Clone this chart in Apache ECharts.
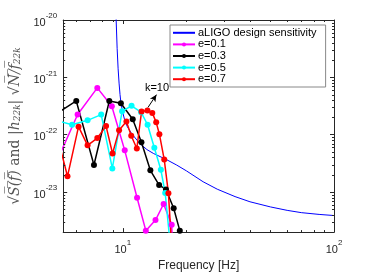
<!DOCTYPE html>
<html><head><meta charset="utf-8">
<script src="https://cdn.jsdelivr.net/npm/echarts@6/dist/echarts.min.js"></script>
<style>html,body{margin:0;padding:0;background:#fff}#c{width:369px;height:277px}</style>
</head><body><div id="c"></div>
<script>
// ---- data ----
const ligoFreq = [9.2, 9.4, 9.5, 9.6, 9.7, 9.8, 10.0, 10.2, 10.5, 11, 12, 13, 14, 16, 18, 20, 24, 28, 34, 40, 50, 60, 70, 85, 100];
const ligoAsd  = [3.16e-20, 3.16e-21, 1.41e-21, 7.94e-22, 5.01e-22, 3.55e-22, 2.40e-22, 1.82e-22, 1.38e-22, 1.05e-22, 7.08e-23, 5.50e-23, 4.68e-23, 3.72e-23, 2.95e-23, 2.34e-23, 1.51e-23, 1.12e-23, 8.32e-24, 6.76e-24, 5.50e-24, 4.79e-24, 4.37e-24, 4.07e-24, 3.89e-24];

const e01Freq = [4.66, 6.11, 7.57, 8.87, 10.21, 11.68, 12.85, 14.28, 15.6, 17.04, 18.5];
const e01Amp  = [2.40e-23, 2.25e-22, 6.55e-22, 3.14e-22, 5.33e-23, 7.96e-24, 2.12e-24, 3.24e-24, 6.19e-24, 2.70e-24, 1e-27];

const e03Freq = [4.72, 6.02, 7.3, 8.63, 9.79, 11.14, 12.25, 13.5, 14.86, 16.01, 17.41, 18.61];
const e03Amp  = [2.19e-22, 3.87e-22, 2.96e-23, 3.87e-22, 3.53e-22, 1.86e-22, 7.40e-23, 2.39e-23, 1.32e-23, 1.11e-23, 5.21e-24, 2.12e-24];

const e05Freq = [4.7, 5.75, 6.81, 7.9, 8.92, 9.92, 11.0, 12.2, 13.1, 14.1, 15.14, 15.87, 16.7];
const e05Amp  = [1.82e-22, 1.49e-22, 1.78e-22, 2.24e-22, 2.58e-23, 2.56e-22, 3.19e-22, 2.47e-22, 1.49e-22, 5.92e-23, 2.44e-23, 9.66e-24, 1.41e-24];

const e07Freq = [4.8, 5.47, 6.17, 6.81, 7.57, 8.33, 8.94, 9.60, 10.40, 10.96, 11.65, 12.27, 13.08, 13.79, 14.39, 14.90, 15.71, 16.44, 17.2];
const e07Amp  = [1.245e-22, 1.88e-23, 1.38e-22, 6.52e-23, 8.73e-23, 1.41e-22, 4.70e-23, 1.20e-22, 1.69e-22, 9.59e-23, 5.74e-23, 2.54e-22, 2.64e-22, 2.40e-22, 1.64e-22, 1.02e-22, 3.68e-23, 9.55e-24, 6.3e-25];

const seriesNames = ['aLIGO design sensitivity', 'e=0.1', 'e=0.3', 'e=0.5', 'e=0.7'];
const annotText = 'k=10';
const annotFrom = [13.16, 2.99e-22];
const annotTo   = [14.43, 4.99e-22];

const X_MIN = 5.22, X_MAX = 100, Y_MIN = 2e-24, Y_MAX = 1e-20;
const xMajorTicks = [10, 100];
const yMajorTicks = [1e-23, 1e-22, 1e-21, 1e-20];
const minorXTicks = [6, 7, 8, 9, 20, 30, 40, 50, 60, 70, 80, 90];
const minorYTicks = [];
for (let n = -24; n <= -21; n++) for (let k = 2; k <= 9; k++) { const v = k * Math.pow(10, n); if (v > Y_MIN && v < Y_MAX) minorYTicks.push(v); }

// ---- helpers (log10 mapping onto value axes) ----
const lg = Math.log10;
const zip = (a, b) => a.map((v, i) => [lg(v), lg(b[i])]);
const AX = '#262626';
const FONT = "'Liberation Sans', Arial, Helvetica, sans-serif";
const SERIF = "'DejaVu Serif', 'Liberation Serif', serif";
function powLabel(v) {
  const e = Math.round(v);
  if (Math.abs(v - e) > 1e-6) return '';
  return '{b|10}{s|' + e + '}';
}
const labelRich = {
  b: { fontSize: 11, fontFamily: FONT, color: AX, lineHeight: 16, verticalAlign: 'bottom' },
  s: { fontSize: 8, fontFamily: FONT, color: AX, lineHeight: 10, verticalAlign: 'top' }
};
const XL = [lg(X_MIN), lg(X_MAX)], YL = [lg(Y_MIN), lg(Y_MAX)];
function renderMinor(params, api) {
  const kind = api.value(2), L = 2;
  const st = { stroke: AX, lineWidth: 1 };
  if (kind === 0) {
    const b = api.coord([api.value(0), YL[0]]), t = api.coord([api.value(0), YL[1]]);
    const x = Math.round(b[0]) + 0.5;
    return { type: 'group', children: [
      { type: 'line', shape: { x1: x, y1: b[1], x2: x, y2: b[1] - L }, style: st },
      { type: 'line', shape: { x1: x, y1: t[1], x2: x, y2: t[1] + L }, style: st }] };
  }
  const l = api.coord([XL[0], api.value(1)]), r = api.coord([XL[1], api.value(1)]);
  const y = Math.round(l[1]) + 0.5;
  return { type: 'group', children: [
    { type: 'line', shape: { x1: l[0], y1: y, x2: l[0] + L, y2: y }, style: st },
    { type: 'line', shape: { x1: r[0], y1: y, x2: r[0] - L, y2: y }, style: st }] };
}
const minorData = minorXTicks.map(v => [lg(v), YL[0], 0]).concat(minorYTicks.map(v => [XL[0], lg(v), 1]));

function dataSeries(name, color, f, a, extra) {
  return Object.assign({
    name, type: 'line', data: zip(f, a), color,
    symbol: 'circle', symbolSize: 6, showSymbol: true,
    lineStyle: { color, width: 1.5 }, itemStyle: { color },
    clip: true, animation: false, z: 3, emphasis: { disabled: true }
  }, extra || {});
}

function baseAxis(ext, major) {
  return {
    type: 'value', min: ext[0], max: ext[1], splitNumber: 1,
    axisLine: { show: true, onZero: false, lineStyle: { color: AX, width: 1 } },
    axisTick: { show: true, inside: true, length: 4, lineStyle: { color: AX }, customValues: major.map(lg) },
    splitLine: { show: false }, minorTick: { show: false }, minorSplitLine: { show: false }
  };
}

const chart = echarts.init(document.getElementById('c'), null, { renderer: 'canvas' });
chart.setOption({
  animation: false,
  backgroundColor: '#fff',
  grid: { left: 55, right: 35, top: 20, bottom: 37, containLabel: false },
  xAxis: [
    Object.assign(baseAxis(XL, xMajorTicks), {
      position: 'bottom',
      axisLabel: { formatter: powLabel, margin: 7, rich: labelRich, customValues: xMajorTicks.map(lg) },
      name: 'Frequency [Hz]', nameLocation: 'middle', nameGap: 22,
      nameTextStyle: { fontSize: 12, color: AX, fontFamily: FONT }
    }),
    Object.assign(baseAxis(XL, xMajorTicks), { position: 'top', axisLabel: { show: false } })
  ],
  yAxis: [
    Object.assign(baseAxis(YL, yMajorTicks), {
      position: 'left',
      axisLabel: { formatter: powLabel, margin: 6, rich: labelRich, customValues: yMajorTicks.map(lg) },
      name: '{n|√}{ov|S\u0305(\u0305f\u0305)\u0305}{n| and |}{it|h}{sb|22k}{n|| √}{ov|N\u0305/\u0305f\u0305}{sb|22k}',
      nameLocation: 'middle', nameGap: 34,
      nameTextStyle: {
        color: '#555',
        rich: {
          n: { fontSize: 14, fontFamily: SERIF, color: '#555' },
          ov: { fontSize: 14, fontStyle: 'italic', fontFamily: SERIF, color: '#555' },
          it: { fontSize: 14, fontStyle: 'italic', fontFamily: SERIF, color: '#555' },
          sb: { fontSize: 9, fontStyle: 'italic', fontFamily: SERIF, color: '#555', padding: [6, 0, 0, 0] }
        }
      }
    }),
    Object.assign(baseAxis(YL, yMajorTicks), { position: 'right', axisLabel: { show: false } })
  ],
  legend: {
    show: true, orient: 'vertical', left: 170, top: 25,
    data: [{ name: seriesNames[0], itemStyle: { opacity: 0 } }].concat(seriesNames.slice(1)),
    itemWidth: 22, itemHeight: 5, itemGap: 0,
    padding: [2, 9, 2, 2],
    backgroundColor: '#fff', borderColor: '#888', borderWidth: 1, borderRadius: 0,
    textStyle: { fontSize: 11, color: '#000', fontFamily: FONT, lineHeight: 11.6, padding: [0, 0, 0, -2] },
    selectedMode: false
  },
  series: [
    { name: seriesNames[0], type: 'line', data: zip(ligoFreq, ligoAsd), color: '#0000ff',
      symbol: 'none', showSymbol: false, lineStyle: { color: '#0000ff', width: 1 }, clip: true, z: 2,
      animation: false, emphasis: { disabled: true } },
    dataSeries(seriesNames[1], '#ff00ff', e01Freq, e01Amp),
    dataSeries(seriesNames[2], '#000000', e03Freq, e03Amp),
    dataSeries(seriesNames[3], '#00ffff', e05Freq, e05Amp),
    dataSeries(seriesNames[4], '#ff0000', e07Freq, e07Amp, {
      markLine: {
        silent: true, animation: false, symbol: ['none', 'arrow'], symbolSize: [5, 7],
        lineStyle: { color: '#000', width: 1, type: 'solid' },
        label: { show: true, position: 'end', formatter: annotText, color: '#000', fontSize: 11, fontFamily: FONT, distance: 1 },
        emphasis: { disabled: true },
        data: [[{ coord: [lg(annotFrom[0]), lg(annotFrom[1])] }, { coord: [lg(annotTo[0]), lg(annotTo[1])] }]]
      }
    }),
    { type: 'custom', data: minorData, renderItem: renderMinor, silent: true, animation: false,
      encode: { x: 0, y: 1 }, z: 5, clip: false, tooltip: { show: false } }
  ]
});
</script>
</body></html>
